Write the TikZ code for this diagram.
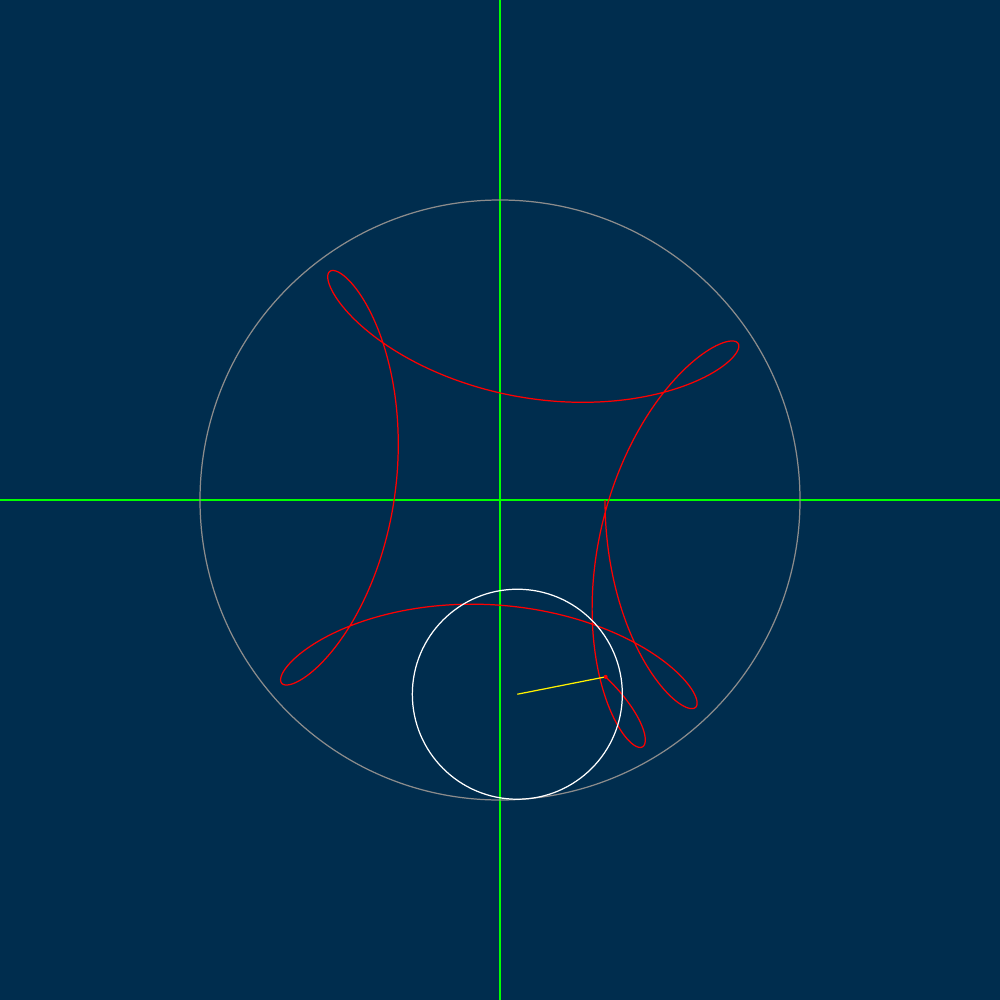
\documentclass[tikz,border=0pt]{standalone}
\definecolor{bg}{RGB}{0,45,78}
\definecolor{axisgreen}{RGB}{0,255,0}
\definecolor{ringgray}{RGB}{140,140,140}
\begin{document}
\begin{tikzpicture}[x=0.01cm,y=-0.01cm,
  axis/.style={draw=axisgreen,line width=0.35pt},
  fixedring/.style={draw=ringgray,line width=0.35pt},
  rollring/.style={draw=white,line width=0.35pt},
  arm/.style={draw=yellow,line width=0.35pt},
  trace/.style={draw=red,line width=0.35pt,line join=round}]
\pgfmathsetmacro{\tend}{444.9}
\fill[bg] (0,0) rectangle (1000,1000);
\useasboundingbox (0,0) rectangle (1000,1000);
\coordinate (o) at (500,500);
\coordinate (c) at ({500+195*cos(\tend)},{500+195*sin(\tend)});
\coordinate (p) at ({500+195*cos(\tend)-90*cos(20*\tend/7)},{500+195*sin(\tend)+90*sin(20*\tend/7)});
\draw[axis] (500,0) -- (500,1000);
\draw[axis] (0,500) -- (1000,500);
\draw[fixedring] (o) circle[radius=300];
\draw[trace] plot[domain=0:\tend,samples=1500,variable=\t]
  ({500+195*cos(\t)-90*cos(20*\t/7)},{500+195*sin(\t)+90*sin(20*\t/7)});
\draw[rollring] (c) circle[radius=105];
\draw[arm] (c) -- (p);
\fill[red] (p) circle[radius=2];
\end{tikzpicture}
\end{document}
